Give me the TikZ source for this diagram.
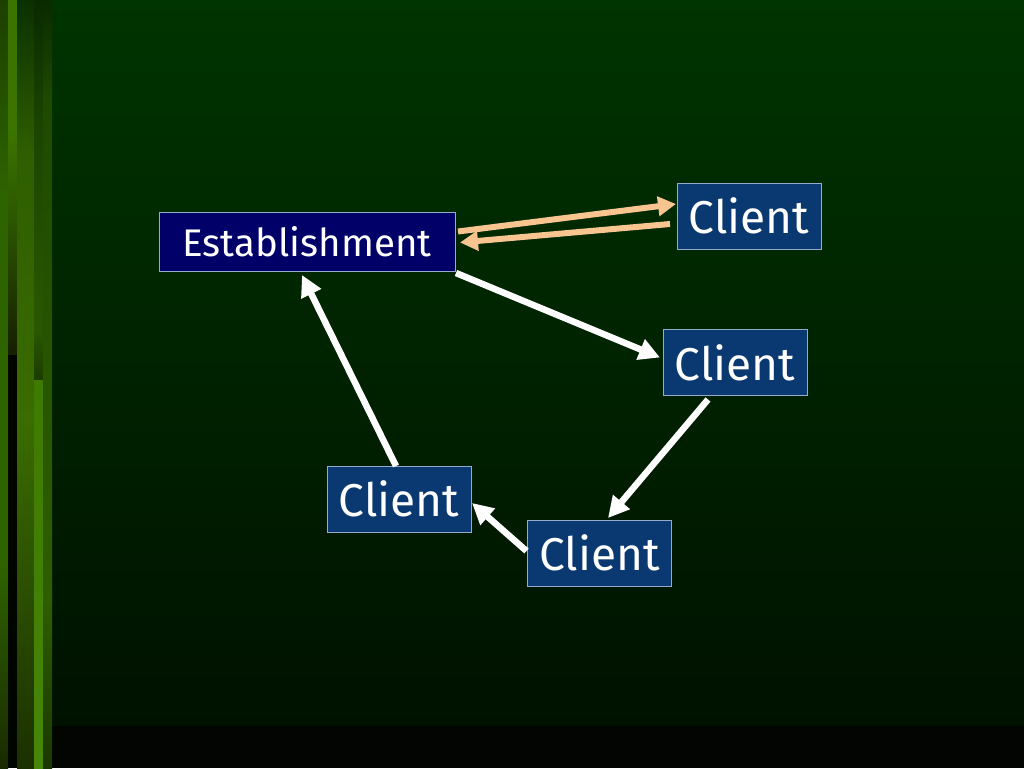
\documentclass[tikz,border=0pt]{standalone}
\usepackage{fontspec}
\setmainfont{Fira Sans}
\usetikzlibrary{arrows.meta,calc}
\definecolor{bgtop}{RGB}{0,52,0}
\definecolor{bgbot}{RGB}{0,17,0}
\definecolor{band}{RGB}{2,5,2}
\definecolor{estfill}{RGB}{0,0,104}
\definecolor{clfill}{RGB}{10,56,112}
\definecolor{boxline}{RGB}{150,170,205}
\definecolor{peach}{RGB}{248,196,144}
\definecolor{gA}{RGB}{28,64,0}
\definecolor{gB}{RGB}{46,100,0}
\definecolor{gC}{RGB}{26,42,0}
\definecolor{gD}{RGB}{60,116,0}
\definecolor{gE}{RGB}{42,82,0}
\definecolor{gF}{RGB}{22,30,0}
\definecolor{gK}{RGB}{0,5,0}
\definecolor{gG}{RGB}{10,48,0}
\definecolor{gH}{RGB}{58,108,0}
\definecolor{gI}{RGB}{28,48,0}
\definecolor{gJ}{RGB}{10,42,0}
\definecolor{gL}{RGB}{26,68,0}
\definecolor{gM}{RGB}{42,88,0}
\definecolor{gN}{RGB}{26,60,0}
\definecolor{gO}{RGB}{62,122,0}
\definecolor{gP}{RGB}{70,134,8}
\definecolor{gQ}{RGB}{30,74,0}
\definecolor{gR}{RGB}{46,94,0}
\definecolor{gS}{RGB}{26,56,0}
\newcommand{\lstripe}[6]{\shade[top color=#5,bottom color=#6] (#1,#3) rectangle (#2,#4);}
\tikzset{
  est/.style={draw=boxline, line width=1pt, fill=estfill, text=white, inner sep=0pt, outer sep=0pt,
    minimum width=296pt, minimum height=59pt, font=\fontsize{38.5}{38.5}\selectfont},
  cl/.style={draw=boxline, line width=1pt, fill=clfill, text=white, inner sep=0pt, outer sep=0pt,
    minimum width=144pt, minimum height=66pt, font=\fontsize{46}{46}\selectfont},
  warrow/.style={draw=white, line width=6.5pt, -{Triangle[length=21pt,width=21pt]}},
  oarrow/.style={draw=peach, line width=6pt, -{Triangle[length=18pt,width=19pt]}}
}
\begin{document}
\begin{tikzpicture}[x=1pt,y=-1pt]
\useasboundingbox (0,0) rectangle (1024,768);
% background
\shade[top color=bgtop,bottom color=bgbot] (0,0) rectangle (1024,726);
\fill[band] (0,726) rectangle (1024,768);
% left stripes
\lstripe{0}{8}{0}{201}{gA}{gB}
\lstripe{0}{8}{200}{561}{gB}{gB}
\lstripe{0}{8}{560}{768}{gB}{gC}
\lstripe{8}{17}{0}{131}{gD}{gD}
\lstripe{8}{17}{130}{231}{gD}{gE}
\lstripe{8}{17}{230}{356}{gE}{gF}
\fill[gK] (8,355) rectangle (17,768);
\lstripe{17}{34}{0}{151}{gG}{gR}
\lstripe{17}{34}{150}{421}{gR}{gH}
\lstripe{17}{34}{420}{768}{gH}{gI}
\lstripe{34}{43}{0}{121}{gJ}{gL}
\lstripe{34}{43}{120}{331}{gL}{gM}
\lstripe{34}{43}{330}{381}{gM}{gN}
\lstripe{34}{43}{380}{768}{gO}{gP}
\lstripe{43}{52}{0}{101}{gJ}{gQ}
\lstripe{43}{52}{100}{601}{gQ}{gR}
\lstripe{43}{52}{600}{768}{gR}{gS}
% nodes
\node[est] (est) at (307,241.5) {Establishment};
\node[cl] (c1) at (749,216) {Client};
\node[cl] (c2) at (735,362.5) {Client};
\node[cl] (c3) at (399,499) {Client};
\node[cl] (c4) at (599.5,553) {Client};
% connectors
\draw[oarrow] ($(est.east)+(3,-10)$) -- ($(c1.west)+(-1,-12)$);
\draw[oarrow] ($(c1.west)+(-7,8)$) -- ($(est.east)+(5,1)$);
\draw[warrow] ($(est.south east)+(1,2)$) -- ($(c2.west)+(-3,-5)$);
\draw[warrow] ($(c2.south)+(-27,4)$) -- ($(c4.north)+(8.5,-2)$);
\draw[warrow] ($(c4.west)+(-1,-2)$) -- ($(c3.east)+(1,4)$);
\draw[warrow] ($(c3.north)+(-3,0)$) -- ($(est.south)+(-5,4)$);
\end{tikzpicture}
\end{document}
